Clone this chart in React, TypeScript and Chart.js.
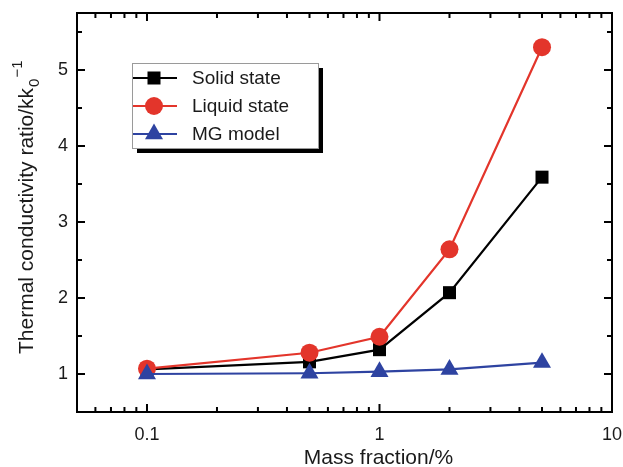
import React, { useEffect, useRef } from "react";
import { Chart, registerables } from "chart.js";

Chart.register(...registerables);

const massFraction = [0.1, 0.5, 1, 2, 5];
const solidState = [1.06, 1.16, 1.32, 2.07, 3.59];
const liquidState = [1.07, 1.28, 1.49, 2.64, 5.3];
const mgModel = [1.0, 1.01, 1.03, 1.06, 1.15];

const xTickValues = [0.1, 1, 10];
const yTickValues = [1, 2, 3, 4, 5];

const seriesNames = ["Solid state", "Liquid state", "MG model"];
const RED = "#e3352b";
const BLUE = "#2e43a1";
const BLACK = "#000000";
const FONT = "'Liberation Sans', Arial, Helvetica, sans-serif";

function drawMarker(ctx: CanvasRenderingContext2D, style: string, x: number, y: number, r: number) {
  ctx.beginPath();
  if (style === "rect") {
    const s = Math.SQRT1_2 * r;
    ctx.rect(x - s, y - s, 2 * s, 2 * s);
  } else if (style === "circle") {
    ctx.arc(x, y, r, 0, Math.PI * 2);
  } else if (style === "triangle") {
    let rad = 0;
    ctx.moveTo(x + Math.sin(rad) * r, y - Math.cos(rad) * r);
    rad += (2 * Math.PI) / 3;
    ctx.lineTo(x + Math.sin(rad) * r, y - Math.cos(rad) * r);
    rad += (2 * Math.PI) / 3;
    ctx.lineTo(x + Math.sin(rad) * r, y - Math.cos(rad) * r);
    ctx.closePath();
  }
  ctx.fill();
}

const framePlugin = {
  id: "frame",
  afterDraw(chart: any) {
    const { ctx, chartArea } = chart;
    const { left, right, top, bottom } = chartArea;
    const xs = chart.scales.x;
    const ys = chart.scales.y;
    ctx.save();
    ctx.strokeStyle = "#000";
    ctx.lineWidth = 2;
    ctx.strokeRect(left, top, right - left, bottom - top);
    // x ticks (log), inward on bottom and top
    const decades = [0.01, 0.1, 1];
    for (const d of decades) {
      for (let m = 1; m <= 9; m++) {
        const v = d * m;
        if (v < xs.min - 1e-9 || v > xs.max + 1e-9) continue;
        const px = xs.getPixelForValue(v);
        const len = m === 1 ? 8 : 5;
        ctx.beginPath();
        ctx.moveTo(px, bottom);
        ctx.lineTo(px, bottom - len);
        ctx.moveTo(px, top);
        ctx.lineTo(px, top + len);
        ctx.stroke();
      }
    }
    // y ticks, inward on left and right
    for (let v = 0.5; v <= ys.max + 1e-9; v += 0.5) {
      const py = ys.getPixelForValue(v);
      const major = Math.abs(v - Math.round(v)) < 1e-9;
      const len = major ? 8 : 5;
      ctx.beginPath();
      ctx.moveTo(left, py);
      ctx.lineTo(left + len, py);
      ctx.moveTo(right, py);
      ctx.lineTo(right - len, py);
      ctx.stroke();
    }

    // axis titles
    ctx.fillStyle = "#1a1a1a";
    ctx.font = `21px ${FONT}`;
    ctx.textAlign = "center";
    ctx.textBaseline = "alphabetic";
    ctx.fillText("Mass fraction/%", (left + right) / 2 + 34, 464);

    ctx.save();
    ctx.translate(33, 354);
    ctx.rotate(-Math.PI / 2);
    ctx.textAlign = "left";
    const main = "Thermal conductivity ratio/kk";
    ctx.font = `21px ${FONT}`;
    ctx.fillText(main, 0, 0);
    const w = ctx.measureText(main).width;
    ctx.font = `15px ${FONT}`;
    ctx.fillText("0", w + 1, 6);
    const w0 = ctx.measureText("0").width;
    ctx.fillText("\u22121", w + w0 + 2, -11);
    ctx.restore();

    // legend
    const bx = 132, by = 63, bw = 186, bh = 85;
    ctx.fillStyle = "#000";
    ctx.fillRect(bx + 5, by + 5, bw, bh);
    ctx.fillStyle = "#fff";
    ctx.fillRect(bx, by, bw, bh);
    ctx.strokeStyle = "#9a9a9a";
    ctx.lineWidth = 1;
    ctx.strokeRect(bx + 0.5, by + 0.5, bw, bh);
    const rows = [78, 106, 134];
    const dsets = chart.data.datasets;
    rows.forEach((ry, i) => {
      const ds = dsets[i];
      ctx.strokeStyle = ds.borderColor;
      ctx.lineWidth = 2;
      ctx.beginPath();
      ctx.moveTo(bx + 1, ry);
      ctx.lineTo(bx + 45, ry);
      ctx.stroke();
      ctx.fillStyle = ds.backgroundColor;
      drawMarker(ctx, ds.pointStyle, bx + 22, ry, ds.pointRadius);
      ctx.fillStyle = "#1a1a1a";
      ctx.font = `19px ${FONT}`;
      ctx.textAlign = "left";
      ctx.textBaseline = "middle";
      ctx.fillText(seriesNames[i], bx + 60, ry + 1);
    });
    ctx.restore();
  },
};

export default function App() {
  const ref = useRef<HTMLCanvasElement | null>(null);
  useEffect(() => {
    if (!ref.current) return;
    const toPts = (arr: number[]) => massFraction.map((x, i) => ({ x, y: arr[i] }));
    const chart = new Chart(ref.current, {
      type: "line",
      data: {
        datasets: [
          {
            label: seriesNames[0],
            data: toPts(solidState),
            borderColor: BLACK,
            backgroundColor: BLACK,
            borderWidth: 2.2,
            pointStyle: "rect",
            pointRadius: 9.2,
            pointBorderWidth: 0,
            order: 2,
          },
          {
            label: seriesNames[1],
            data: toPts(liquidState),
            borderColor: RED,
            backgroundColor: RED,
            borderWidth: 2.2,
            pointStyle: "circle",
            pointRadius: 9,
            pointBorderWidth: 0,
            order: 1,
          },
          {
            label: seriesNames[2],
            data: toPts(mgModel),
            borderColor: BLUE,
            backgroundColor: BLUE,
            borderWidth: 2.2,
            pointStyle: "triangle",
            pointRadius: 10.4,
            pointBorderWidth: 0,
            order: 0,
          },
        ] as any,
      },
      options: {
        responsive: false,
        animation: false,
        devicePixelRatio: 1,
        layout: { padding: { top: 13, right: 11, left: 0, bottom: 0 } },
        plugins: { legend: { display: false }, tooltip: { enabled: false } },
        elements: { line: { tension: 0 } },
        scales: {
          x: {
            type: "logarithmic",
            min: 0.05,
            max: 10,
            border: { display: false },
            grid: { display: false, drawTicks: false },
            afterBuildTicks: (scale: any) => {
              scale.ticks = xTickValues.map((v) => ({ value: v, major: true }));
            },
            afterFit: (scale: any) => {
              scale.height = 55;
              scale.paddingLeft = 0;
              scale.paddingRight = 0;
            },
            ticks: {
              padding: 12,
              color: "#1a1a1a",
              font: { family: FONT, size: 18 },
              autoSkip: false,
              maxRotation: 0,
              callback: (v: any) => String(v),
            },
          },
          y: {
            type: "linear",
            min: 0.5,
            max: 5.75,
            border: { display: false },
            grid: { display: false, drawTicks: false },
            afterBuildTicks: (scale: any) => {
              scale.ticks = yTickValues.map((v) => ({ value: v }));
            },
            afterFit: (scale: any) => {
              scale.width = 77;
              scale.paddingTop = 0;
              scale.paddingBottom = 0;
            },
            ticks: {
              padding: 9,
              color: "#1a1a1a",
              font: { family: FONT, size: 18 },
              callback: (v: any) => String(v),
            },
          },
        },
      },
      plugins: [framePlugin],
    });
    return () => chart.destroy();
  }, []);
  return (
    <div style={{ position: "fixed", left: 0, top: 0, width: 623, height: 467, background: "#fff" }}>
      <canvas ref={ref} width={623} height={467} style={{ width: 623, height: 467, display: "block" }} />
    </div>
  );
}
